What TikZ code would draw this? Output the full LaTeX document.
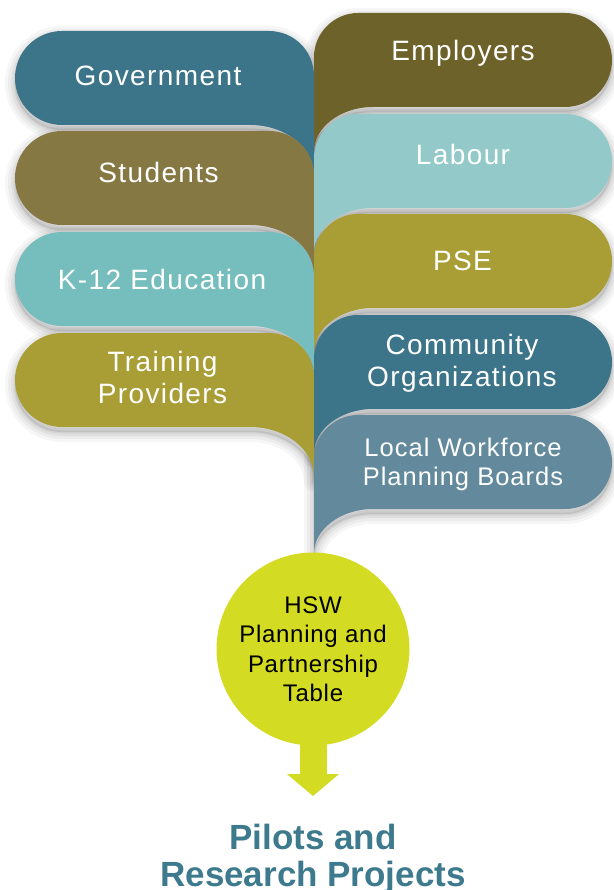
\documentclass[tikz,border=0pt]{standalone}
\usepackage{fontspec}
\setmainfont{Liberation Sans}
\newfontfamily\leaffont[LetterSpace=5]{Liberation Sans}
\newfontfamily\smallleaffont[LetterSpace=4]{Liberation Sans}
\newfontfamily\circfont[LetterSpace=3]{Liberation Sans}
\newfontfamily\pilotfont{Liberation Sans}
\usetikzlibrary{arrows.meta}
\definecolor{cgov}{HTML}{3C7589}
\definecolor{cstu}{HTML}{867843}
\definecolor{ck12}{HTML}{75BEBD}
\definecolor{ctrn}{HTML}{A89E35}
\definecolor{cemp}{HTML}{6E622B}
\definecolor{clab}{HTML}{93C9C9}
\definecolor{cpse}{HTML}{A89E35}
\definecolor{ccom}{HTML}{3C7589}
\definecolor{clwf}{HTML}{628A9C}
\definecolor{ccirc}{HTML}{D4DB23}
\definecolor{cpilot}{HTML}{3E7A8E}
\newcommand\Lshape{(314,45) .. controls (314,20) and (294,0) .. (269,0) -- (62,0) .. controls (36,0) and (15,21) .. (15,47) .. controls (15,73) and (36,94) .. (62,94) -- (250,94) .. controls (285,94) and (314,116) .. (314,144) -- cycle}
\newcommand\Rshape{(314,44) .. controls (314,20) and (334,0) .. (358,0) -- (565,0) .. controls (591,0) and (612,21) .. (612,47) .. controls (612,73) and (591,94) .. (565,94) -- (373,94) .. controls (340,94) and (314,115) .. (314,138) -- cycle}
\newcommand\leafshadow[2]{%
  \begin{scope}[shift={(0,#2+5)}]
    \foreach \w/\o in {20/0.035,14/0.04,8/0.05,3/0.06}{%
      \draw[line width=\w pt, draw=black, draw opacity=\o, line join=round] #1;}
    \fill[black, fill opacity=0.09] #1;
  \end{scope}}
\newcommand\leaf[3]{%
  \begin{scope}[shift={(0,#2)}]
    \fill[#3] #1;
  \end{scope}}
\begin{document}
\begin{tikzpicture}[x=1pt,y=-1pt,
  leaftext/.style={text=white, font=\leaffont\fontsize{28}{32}\selectfont, align=center, inner sep=0pt, text depth=0pt, anchor=south},
  smalltext/.style={leaftext, font=\smallleaffont\fontsize{25.5}{29.5}\selectfont},
  hubnode/.style={circle, fill=ccirc, minimum size=193pt, inner sep=0pt, text=black, align=center, text depth=0pt, font=\circfont\fontsize{24}{29.3}\selectfont},
  outcome/.style={text=cpilot, font=\pilotfont\bfseries\fontsize{35}{37}\selectfont, align=center, inner sep=0pt, text depth=0pt, anchor=south},
  flow/.style={line width=27pt, draw=ccirc, -{Triangle[width=51pt,length=22pt]}}]
\useasboundingbox (0,0) rectangle (613,890);
% shadows
\leafshadow{\Lshape}{31}
\leafshadow{\Lshape}{131}
\leafshadow{\Lshape}{232}
\leafshadow{\Lshape}{333}
\leafshadow{\Rshape}{13}
\leafshadow{\Rshape}{114}
\leafshadow{\Rshape}{214}
\leafshadow{\Rshape}{315}
\leafshadow{\Rshape}{415}
% left leaves
\leaf{\Lshape}{31}{cgov}
\leaf{\Lshape}{131}{cstu}
\leaf{\Lshape}{232}{ck12}
\leaf{\Lshape}{333}{ctrn}
% right leaves
\leaf{\Rshape}{13}{cemp}
\leaf{\Rshape}{114}{clab}
\leaf{\Rshape}{214}{cpse}
\leaf{\Rshape}{315}{ccom}
\leaf{\Rshape}{415}{clwf}
% labels
\node[leaftext] (gov) at (158,86) {Government};
\node[leaftext] (stu) at (158.5,183) {Students};
\node[leaftext] (k12) at (162,290) {K-12 Education};
\node[leaftext] (trn) at (162.5,404) {Training\\Providers};
\node[leaftext] (emp) at (463,61) {Employers};
\node[leaftext] (lab) at (463,165) {Labour};
\node[leaftext] (pse) at (462.5,271) {PSE};
\node[leaftext] (com) at (462,387) {Community\\Organizations};
\node[smalltext] (lwf) at (463,486) {Local Workforce\\Planning Boards};
% hub and outcome
\node[hubnode] (hsw) at (313,649) {HSW\\Planning and\\Partnership\\Table};
\coordinate (tip) at (313,796);
\draw[flow] ([yshift=3pt]hsw.south) -- (tip);
\node[outcome] (pilots) at (313,887) {Pilots and\\Research Projects};
\end{tikzpicture}
\end{document}
